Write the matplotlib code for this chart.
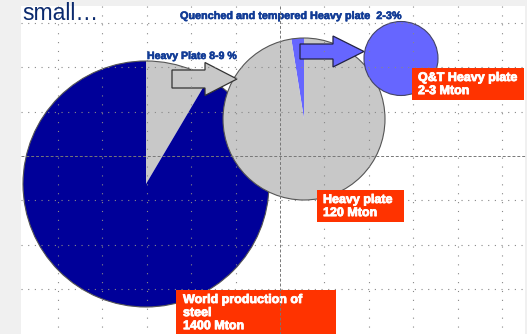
import matplotlib
matplotlib.use("Agg")
import matplotlib.pyplot as plt
import matplotlib.patheffects as pe
from matplotlib.patches import Rectangle, Circle, FancyArrow

# Shares shown as pie slices
world_labels = ["Heavy plate", "Other steel"]
world_share = [8.5, 91.5]          # % of world steel production
plate_labels = ["Q&T heavy plate", "Other heavy plate"]
plate_share = [2.5, 97.5]          # % of heavy plate production
qt_share = [100.0]

box_texts = [
    "Q&T Heavy plate\n2-3 Mton",
    "Heavy plate\n120 Mton",
    "World production of\nsteel\n1400 Mton",
]
title_text = "small\u2026"
qt_caption = "Quenched and tempered Heavy plate  2-3%"
plate_caption = "Heavy Plate 8-9 %"

W, H = 527, 334
NAVY = "#000099"
GREY = "#c8c8c8"
LBLUE = "#6666ff"
ORANGE = "#ff3300"
TXT_BLUE = "#123c96"


def Y(y):
    return H - y


fig = plt.figure(figsize=(W / 100, H / 100), dpi=100)
fig.patch.set_facecolor("#f0f0f0")
ax = fig.add_axes([0, 0, 1, 1])
ax.set_xlim(0, W)
ax.set_ylim(0, H)
ax.set_aspect("equal")
ax.axis("off")

# white slide area
ax.add_patch(Rectangle((21, 0), 504, Y(6), facecolor="white", edgecolor="none", zorder=0))

# world steel pie
ax.pie(world_share, colors=[GREY, NAVY], startangle=90, counterclock=False,
       center=(146, Y(184)), radius=123, frame=True,
       wedgeprops=dict(linewidth=0, zorder=1))
ax.add_patch(Circle((146, Y(184)), 123, fill=False, edgecolor="#555555", lw=0.8, zorder=1.1))

# heavy plate pie
ax.pie(plate_share, colors=[LBLUE, GREY], startangle=90, counterclock=True,
       center=(304, Y(119)), radius=81, frame=True,
       wedgeprops=dict(linewidth=0, zorder=1.2))
ax.add_patch(Circle((304, Y(119)), 81, fill=False, edgecolor="#555555", lw=0.8, zorder=1.3))

# Q&T pie
ax.pie(qt_share, colors=[LBLUE], startangle=90, center=(401, Y(58.5)), radius=37,
       frame=True, wedgeprops=dict(linewidth=0, zorder=1.4))
ax.add_patch(Circle((401, Y(58.5)), 37, fill=False, edgecolor="#444466", lw=0.8, zorder=1.5))

ax.set_xlim(0, W)
ax.set_ylim(0, H)
ax.axis("off")

# block arrows
ax.add_patch(FancyArrow(172, Y(79), 65, 0, width=18, head_width=33, head_length=32,
                        length_includes_head=True, facecolor=GREY, edgecolor="#333333",
                        lw=0.9, zorder=3))
ax.add_patch(FancyArrow(300, Y(51.5), 64, 0, width=15, head_width=31, head_length=31,
                        length_includes_head=True, facecolor=LBLUE, edgecolor="#222244",
                        lw=0.9, zorder=3))

# dotted grid
step = 44.4
gx = [280 + k * step for k in range(-5, 6) if k != 0]
gy = [156 + k * step for k in range(-3, 4) if k != 0]
for x in gx:
    ax.plot([x, x], [Y(6), 0], color="#888888", lw=0.8, dashes=(1, 7), zorder=4)
for y in gy:
    ax.plot([21, 525], [Y(y), Y(y)], color="#888888", lw=0.8, dashes=(1, 5), zorder=4)

# label boxes
bold_white = [pe.withStroke(linewidth=0.6, foreground="white")]
boxes = [(412, 68, 112, 32, 418), (317, 190, 87, 32, 323), (176, 290, 160, 44, 183)]
for (bx, by, bw, bh, tx), txt in zip(boxes, box_texts):
    ax.add_patch(Rectangle((bx, Y(by + bh)), bw, bh, facecolor=ORANGE,
                           edgecolor="none", zorder=5))
    ax.text(tx, Y(by + 4), txt, color="white", fontsize=9, fontweight="bold",
            family="Liberation Sans", va="top", ha="left", linespacing=1.12,
            path_effects=bold_white, zorder=6)

# captions
bold_blue = [pe.withStroke(linewidth=0.4, foreground=TXT_BLUE)]
ax.text(22, Y(14), title_text, color="#0b2a6e", fontsize=16.5, family="Liberation Sans",
        va="center", ha="left", zorder=6)
ax.text(180, Y(16), qt_caption, color=TXT_BLUE, fontsize=7.8, fontweight="bold",
        family="Liberation Sans", va="center", ha="left", path_effects=bold_blue, zorder=6)
ax.text(147, Y(56), plate_caption, color=TXT_BLUE, fontsize=7.6, fontweight="bold",
        family="Liberation Sans", va="center", ha="left", path_effects=bold_blue, zorder=6)

# centre guides
ax.plot([280, 280], [Y(6), 0], color="#777777", lw=0.7, dashes=(3, 2), zorder=7)
ax.plot([21, 525], [Y(156), Y(156)], color="#777777", lw=0.7, dashes=(3, 2), zorder=7)

fig.savefig("out.png", dpi=100, facecolor=fig.get_facecolor())
